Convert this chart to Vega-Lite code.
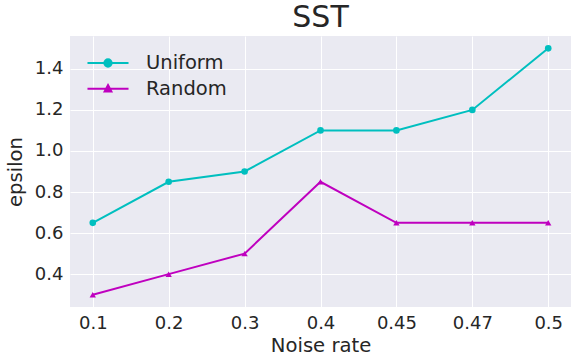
{
  "$schema": "https://vega.github.io/schema/vega-lite/v6.json",
  "width": 501,
  "height": 271,
  "autosize": {"type": "none"},
  "padding": {"left": 70, "top": 36, "right": 7, "bottom": 57},
  "background": "white",
  "title": {"text": "SST", "fontSize": 30, "fontWeight": "normal", "font": "DejaVu Sans", "color": "#262626", "offset": 3},
  "config": {
    "view": {"fill": "#EAEAF2", "stroke": null},
    "axis": {
      "labelFont": "DejaVu Sans", "titleFont": "DejaVu Sans",
      "labelFontSize": 18, "titleFontSize": 19.6, "titleFontWeight": "normal",
      "labelColor": "#262626", "titleColor": "#262626",
      "gridColor": "white", "gridWidth": 1, "gridOpacity": 1,
      "domain": false, "ticks": false, "labelPadding": 7
    },
    "legend": {"labelFont": "DejaVu Sans", "labelFontSize": 19.5, "labelColor": "#262626", "padding": 0}
  },
  "data": {"values": [
    {"noise": "0.1", "series": "Uniform", "epsilon": 0.65},
    {"noise": "0.2", "series": "Uniform", "epsilon": 0.85},
    {"noise": "0.3", "series": "Uniform", "epsilon": 0.9},
    {"noise": "0.4", "series": "Uniform", "epsilon": 1.1},
    {"noise": "0.45", "series": "Uniform", "epsilon": 1.1},
    {"noise": "0.47", "series": "Uniform", "epsilon": 1.2},
    {"noise": "0.5", "series": "Uniform", "epsilon": 1.5},
    {"noise": "0.1", "series": "Random", "epsilon": 0.3},
    {"noise": "0.2", "series": "Random", "epsilon": 0.4},
    {"noise": "0.3", "series": "Random", "epsilon": 0.5},
    {"noise": "0.4", "series": "Random", "epsilon": 0.85},
    {"noise": "0.45", "series": "Random", "epsilon": 0.65},
    {"noise": "0.47", "series": "Random", "epsilon": 0.65},
    {"noise": "0.5", "series": "Random", "epsilon": 0.65}
  ]},
  "encoding": {
    "x": {"field": "noise", "type": "ordinal", "sort": ["0.1","0.2","0.3","0.4","0.45","0.47","0.5"],
      "scale": {"type": "point", "padding": 0.3},
      "axis": {"title": "Noise rate", "labelAngle": 0, "grid": true, "titlePadding": 4}},
    "y": {"field": "epsilon", "type": "quantitative",
      "scale": {"domain": [0.24, 1.56], "nice": false, "zero": false},
      "axis": {"title": "epsilon", "values": [0.4, 0.6, 0.8, 1.0, 1.2, 1.4], "format": ".1f", "titlePadding": 9}},
    "color": {"field": "series", "type": "nominal",
      "scale": {"domain": ["Uniform", "Random"], "range": ["#00BFBF", "#BF00BF"]},
      "legend": {
        "title": null, "orient": "none", "legendX": 23.5, "legendY": 12.5,
        "symbolSize": 729, "labelOffset": 23.5, "rowPadding": 1.7,
        "encode": {"symbols": {"update": {
          "shape": {"signal": "datum.value === 'Uniform' ? 'M-1.52,0H1.52M-0.27,0A0.27,0.27 0 1,1 0.27,0A0.27,0.27 0 1,1 -0.27,0Z' : 'M-1.52,0H1.52M0,-0.27L0.25,0.2L-0.25,0.2Z'"},
          "strokeWidth": {"value": 2},
          "stroke": {"signal": "datum.value === 'Uniform' ? '#00BFBF' : '#BF00BF'"},
          "fill": {"signal": "datum.value === 'Uniform' ? '#00BFBF' : '#BF00BF'"},
          "opacity": {"value": 1},
          "strokeOpacity": {"value": 1},
          "fillOpacity": {"value": 1}
        }}}
      }}
  },
  "layer": [
    {"mark": {"type": "line", "strokeWidth": 2}},
    {"transform": [{"filter": "datum.series === 'Uniform'"}],
     "mark": {"type": "point", "filled": true, "opacity": 1, "size": 44, "shape": "circle"}},
    {"transform": [{"filter": "datum.series === 'Random'"}],
     "mark": {"type": "point", "filled": true, "opacity": 1, "size": 40, "shape": "triangle-up"}}
  ]
}
